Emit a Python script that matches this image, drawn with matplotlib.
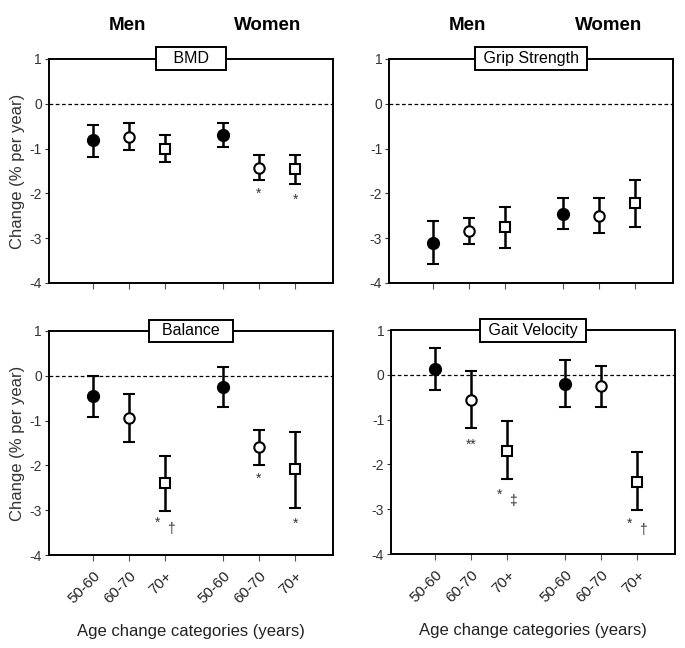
import numpy as np
import matplotlib.pyplot as plt

plt.rcParams['font.family'] = ['Liberation Sans', 'DejaVu Sans']
plt.rcParams['axes.unicode_minus'] = False

# x positions: men 50-60, 60-70, 70+, women 50-60, 60-70, 70+
xpos = [1, 2, 3, 4.6, 5.6, 6.6]
age_labels = ['50-60', '60-70', '70+', '50-60', '60-70', '70+']
panels = ['BMD', 'Grip Strength', 'Balance', 'Gait Velocity']

# mean, upper and lower error limits (% per year)
bmd_mean = [-0.81, -0.75, -1.01, -0.69, -1.44, -1.46]
bmd_hi = [-0.48, -0.43, -0.69, -0.43, -1.15, -1.15]
bmd_lo = [-1.18, -1.04, -1.31, -0.97, -1.70, -1.79]

grip_mean = [-3.10, -2.84, -2.75, -2.45, -2.50, -2.21]
grip_hi = [-2.62, -2.56, -2.30, -2.10, -2.10, -1.70]
grip_lo = [-3.57, -3.14, -3.21, -2.79, -2.88, -2.75]

bal_mean = [-0.45, -0.95, -2.40, -0.26, -1.60, -2.09]
bal_hi = [0.0, -0.41, -1.78, 0.19, -1.20, -1.25]
bal_lo = [-0.91, -1.47, -3.02, -0.69, -2.00, -2.94]

gait_mean = [0.13, -0.56, -1.69, -0.20, -0.25, -2.39]
gait_hi = [0.59, 0.08, -1.03, 0.32, 0.20, -1.72]
gait_lo = [-0.33, -1.19, -2.33, -0.71, -0.71, -3.02]

# significance marks: (x index, y, text, x offset)
bmd_marks = [(4, -2.02, '*', 0), (5, -2.15, '*', 0)]
grip_marks = []
bal_marks = [(2, -3.28, '*', -0.22), (2, -3.42, '\u2020', 0.15),
             (4, -2.30, '*', 0), (5, -3.30, '*', 0)]
gait_marks = [(1, -1.56, '**', 0), (2, -2.67, '*', -0.22), (2, -2.82, '\u2021', 0.15),
              (5, -3.32, '*', -0.22), (5, -3.47, '\u2020', 0.15)]

data = [(bmd_mean, bmd_hi, bmd_lo, bmd_marks),
        (grip_mean, grip_hi, grip_lo, grip_marks),
        (bal_mean, bal_hi, bal_lo, bal_marks),
        (gait_mean, gait_hi, gait_lo, gait_marks)]

markers = ['o', 'o', 's', 'o', 'o', 's']
faces = ['black', 'white', 'white', 'black', 'white', 'white']
sizes = [8, 7.5, 7, 8, 7.5, 7]
# extra horizontal space inside each title box (spaces)
box_pad = ['   ', ' ', '  ', ' ']

fig = plt.figure(figsize=(6.85, 6.48), dpi=100)
rects = [[0.0715, 0.5633, 0.4146, 0.3457],
         [0.568, 0.5633, 0.4146, 0.3457],
         [0.0715, 0.1435, 0.4146, 0.3457],
         [0.571, 0.145, 0.4146, 0.3457]]

for i, (mean, hi, lo, marks) in enumerate(data):
    ax = fig.add_axes(rects[i])
    for j in range(6):
        yerr = [[mean[j] - lo[j]], [hi[j] - mean[j]]]
        ax.errorbar(xpos[j], mean[j], yerr=yerr, fmt=markers[j], color='black',
                    mfc=faces[j], mec='black', mew=1.5, ms=sizes[j],
                    elinewidth=1.8, capsize=4, capthick=1.8, zorder=3)
    ax.axhline(0, color='black', ls='--', lw=0.9, dashes=(3, 2), zorder=1)
    for idx, y, txt, dx in marks:
        ax.text(xpos[idx] + dx, y, txt, ha='center', va='center', fontsize=10, color='#333333')

    ax.set_xlim(-0.22, 7.65)
    ax.set_ylim(-4, 1)
    ax.set_yticks([-4, -3, -2, -1, 0, 1])
    ax.set_xticks(xpos)
    for s in ax.spines.values():
        s.set_linewidth(1.4)
    ax.tick_params(axis='y', length=3, width=0.8, labelsize=10, colors='#333333', pad=2)
    ax.tick_params(axis='x', length=4, width=0.8, color='#555555')
    if i >= 2:
        ax.set_xticklabels(age_labels, rotation=45, ha='right', rotation_mode='anchor',
                           fontsize=11, color='#222222')
        ax.tick_params(axis='x', pad=6)
        ax.set_xlabel('Age change categories (years)', fontsize=12, color='#222222', labelpad=13)
    else:
        ax.set_xticklabels([])
        # group headers above the top panels
        ax.text(1.95, 1.75, 'Men', ha='center', va='center', fontsize=13.5,
                fontweight='bold', clip_on=False)
        ax.text(5.85, 1.75, 'Women', ha='center', va='center', fontsize=13.5,
                fontweight='bold', clip_on=False)
    if i % 2 == 0:
        ax.set_ylabel('Change (% per year)', fontsize=12, color='#333333', labelpad=3)
    ax.text(0.5, 1.0, box_pad[i] + panels[i] + box_pad[i], transform=ax.transAxes,
            ha='center', va='center', fontsize=11.5, zorder=5,
            bbox=dict(boxstyle='square,pad=0.25', fc='white', ec='black', lw=1.4))

fig.savefig('out.png', dpi=100)
